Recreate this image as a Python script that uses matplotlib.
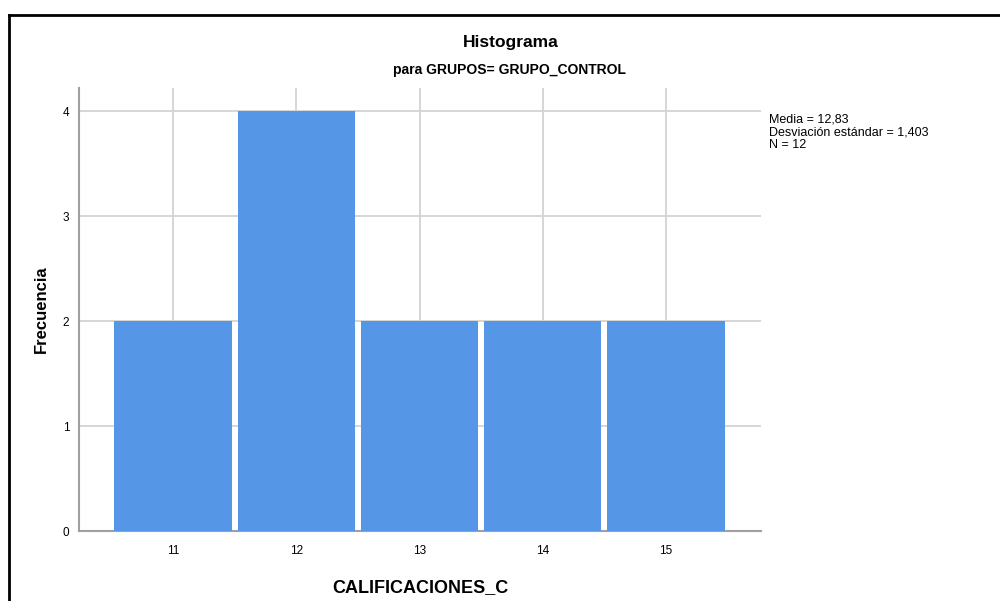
import matplotlib
matplotlib.use("Agg")
import matplotlib.pyplot as plt
from matplotlib.lines import Line2D

# data
calificaciones = [11, 12, 13, 14, 15]
frecuencia = [2, 4, 2, 2, 2]
stats_lines = ["Media = 12,83", "Desviación estándar = 1,403", "N = 12"]

plt.rcParams["font.family"] = ["Liberation Sans", "DejaVu Sans"]

W, H = 1000, 601
fig = plt.figure(figsize=(W / 100, H / 100), dpi=100)
ax = fig.add_axes([79 / W, 1 - 531 / H, (761 - 79) / W, (531 - 88) / H])

grid_col = "#d3d3d3"
spine_col = "#a0a0a0"

ax.bar(calificaciones, frecuencia, width=0.95, color="#5596e6", zorder=3)

ax.set_xlim(10.237, 15.771)
ax.set_ylim(0, 4.22)
ax.set_xticks(calificaciones)
ax.set_yticks([0, 1, 2, 3, 4])
ax.grid(True, color=grid_col, linewidth=1.3, zorder=0)
ax.set_axisbelow(True)
ax.tick_params(length=0, labelsize=8.5, colors="black")
ax.tick_params(axis="x", pad=10)
ax.tick_params(axis="y", pad=7)

for side in ["top", "right"]:
    ax.spines[side].set_visible(False)
for side in ["left", "bottom"]:
    ax.spines[side].set_color(spine_col)
    ax.spines[side].set_linewidth(1.5)

ax.set_ylabel("Frecuencia", fontsize=12, fontweight="bold", labelpad=10)
ax.set_xlabel("CALIFICACIONES_C", fontsize=13, fontweight="bold", labelpad=16)

fig.text(511 / W, 1 - 42 / H, "Histograma", ha="center", va="center",
         fontsize=12.5, fontweight="bold")
fig.text(509 / W, 1 - 70 / H, "para GRUPOS= GRUPO_CONTROL", ha="center",
         va="center", fontsize=10, fontweight="bold")

fig.text(769 / W, 1 - 113 / H, "\n".join(stats_lines), ha="left", va="top",
         fontsize=9, linespacing=1.12)

# outer frame of the output window (only top and left edges are in view)
fig.add_artist(Line2D([9 / W, 9 / W], [0, 1 - 15 / H], color="black",
                      linewidth=2, transform=fig.transFigure))
fig.add_artist(Line2D([9 / W, 1], [1 - 15 / H, 1 - 15 / H], color="black",
                      linewidth=2, transform=fig.transFigure))

fig.savefig("out.png", dpi=100)
